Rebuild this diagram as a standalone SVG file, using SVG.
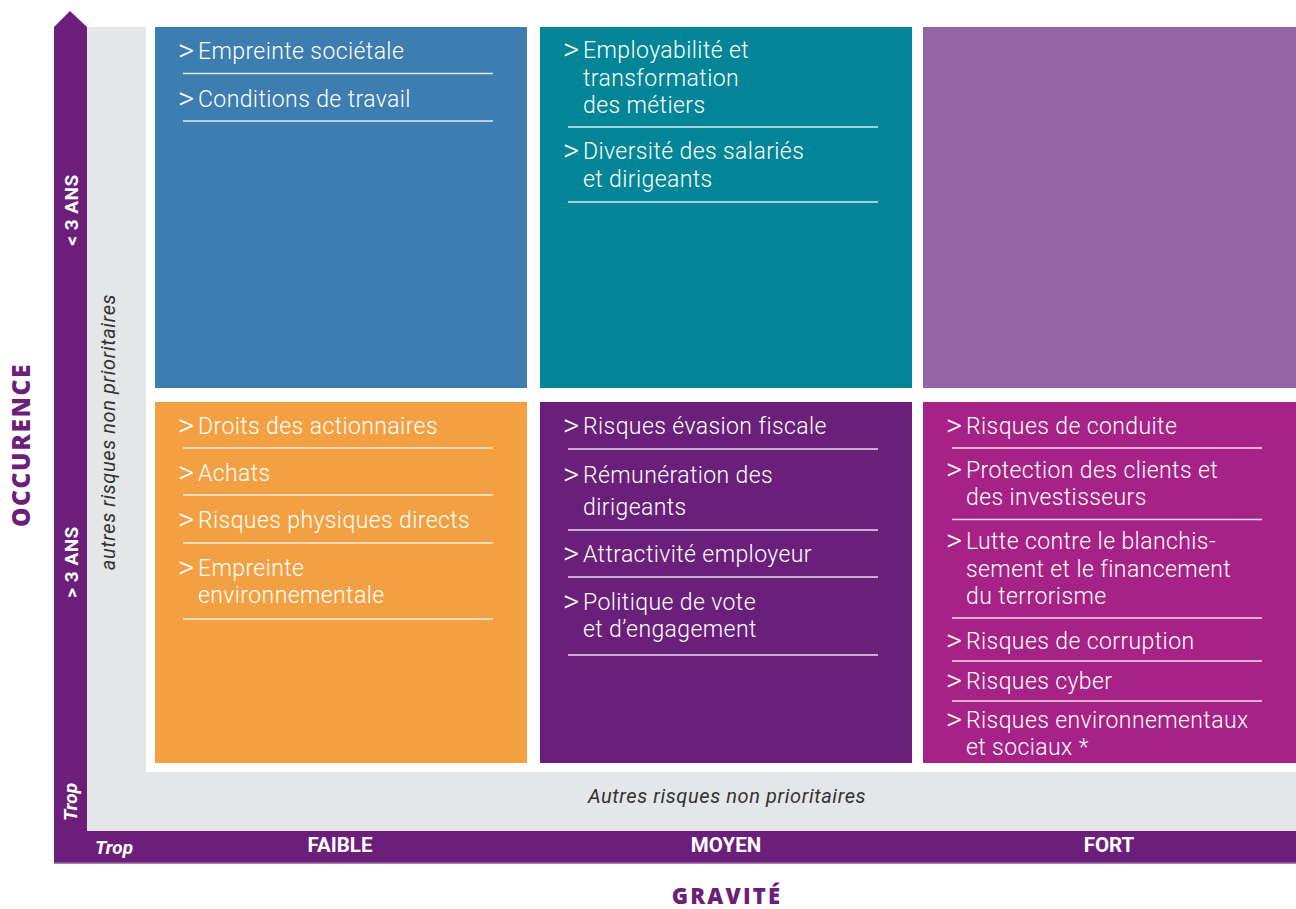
<svg xmlns="http://www.w3.org/2000/svg" width="1296" height="909" viewBox="0 0 1296 909">
<style>
.it{font-family:Roboto,"Liberation Sans",sans-serif;font-weight:300;font-size:23px;letter-spacing:0.4px;fill:#fff}
.gt{font-family:Roboto,"Liberation Sans",sans-serif;font-weight:300;font-size:31px;fill:#fff}
.sep{stroke:#fff;stroke-width:1.3;opacity:0.85}
.ax{font-family:Roboto,"Liberation Sans",sans-serif;font-weight:700;fill:#fff}
.grey{font-family:Roboto,"Liberation Sans",sans-serif;font-style:italic;fill:#333;font-size:20px;letter-spacing:0.6px}
.title{font-family:"Open Sans","Liberation Sans",sans-serif;font-weight:800;fill:#6b1f7b}
</style>
<rect width="1296" height="909" fill="#fff"/>
<g id="axes">
<rect x="87" y="27" width="59" height="804" fill="#e5e6e8"/>
<rect x="87" y="772" width="1209" height="59" fill="#e5e6e8"/>
<polygon points="54,27 70,11 87,27 87,863 54,863" fill="#6b1f7b"/>
<rect x="54" y="831" width="1242" height="32" fill="#6b1f7b"/>
<rect x="54" y="862.5" width="1242" height="1.5" fill="#a77fb3"/>
<text class="ax" font-size="19" letter-spacing="0.5" transform="translate(78,210) rotate(-90)" text-anchor="middle">&lt; 3 ANS</text>
<text class="ax" font-size="19" letter-spacing="0.5" transform="translate(78,562) rotate(-90)" text-anchor="middle">&gt; 3 ANS</text>
<text class="ax" font-size="19" font-style="italic" transform="translate(77,802) rotate(-90)" text-anchor="middle">Trop</text>
<text class="ax" font-size="19" font-style="italic" x="95" y="854">Trop</text>
<text class="ax" font-size="20.5" x="340" y="852" text-anchor="middle">FAIBLE</text>
<text class="ax" font-size="20.5" x="726" y="852" text-anchor="middle">MOYEN</text>
<text class="ax" font-size="20.5" x="1109" y="852" text-anchor="middle">FORT</text>
<text class="grey" transform="translate(115,432) rotate(-90)" text-anchor="middle">autres risques non prioritaires</text>
<text class="grey" x="727" y="803" text-anchor="middle">Autres risques non prioritaires</text>
<text class="title" font-size="24.5" letter-spacing="1.6" transform="translate(30,445) rotate(-90)" text-anchor="middle">OCCURENCE</text>
<text class="title" font-size="22" letter-spacing="2.2" x="727" y="904" text-anchor="middle">GRAVITÉ</text>
</g>
<g id="cell-faible-court">
<rect x="155" y="27" width="372" height="361" fill="#3d7daf"/>
<text class="gt" x="178" y="61">&gt;</text><text class="it" x="198" y="59">Empreinte sociétale</text>
<line class="sep" x1="183" y1="73.5" x2="493" y2="73.5"/>
<text class="gt" x="178" y="109">&gt;</text><text class="it" x="198" y="107">Conditions de travail</text>
<line class="sep" x1="183" y1="121" x2="493" y2="121"/>
</g>
<g id="cell-moyen-court">
<rect x="540" y="27" width="372" height="361" fill="#028597"/>
<text class="gt" x="563" y="60">&gt;</text><text class="it" x="583" y="58">Employabilité et</text>
<text class="it" x="583" y="86">transformation</text>
<text class="it" x="583" y="113">des métiers</text>
<line class="sep" x1="568" y1="127" x2="878" y2="127"/>
<text class="gt" x="563" y="161">&gt;</text><text class="it" x="583" y="159">Diversité des salariés</text>
<text class="it" x="583" y="187">et dirigeants</text>
<line class="sep" x1="568" y1="202" x2="878" y2="202"/>
</g>
<g id="cell-fort-court">
<rect x="923" y="27" width="373" height="361" fill="#9464a6"/>
</g>
<g id="cell-faible-long">
<rect x="155" y="402" width="372" height="361" fill="#f3a043"/>
<text class="gt" x="178" y="436">&gt;</text><text class="it" x="198" y="434">Droits des actionnaires</text>
<line class="sep" x1="183" y1="448" x2="493" y2="448"/>
<text class="gt" x="178" y="483">&gt;</text><text class="it" x="198" y="481">Achats</text>
<line class="sep" x1="183" y1="495" x2="493" y2="495"/>
<text class="gt" x="178" y="530">&gt;</text><text class="it" x="198" y="528">Risques physiques directs</text>
<line class="sep" x1="183" y1="543" x2="493" y2="543"/>
<text class="gt" x="178" y="578">&gt;</text><text class="it" x="198" y="576">Empreinte</text>
<text class="it" x="198" y="603">environnementale</text>
<line class="sep" x1="183" y1="619" x2="493" y2="619"/>
</g>
<g id="cell-moyen-long">
<rect x="540" y="402" width="372" height="361" fill="#6a1f7a"/>
<text class="gt" x="563" y="436">&gt;</text><text class="it" x="583" y="434">Risques évasion fiscale</text>
<line class="sep" x1="568" y1="449" x2="878" y2="449"/>
<text class="gt" x="563" y="485">&gt;</text><text class="it" x="583" y="483">Rémunération des</text>
<text class="it" x="583" y="515">dirigeants</text>
<line class="sep" x1="568" y1="530" x2="878" y2="530"/>
<text class="gt" x="563" y="564">&gt;</text><text class="it" x="583" y="562">Attractivité employeur</text>
<line class="sep" x1="568" y1="577" x2="878" y2="577"/>
<text class="gt" x="563" y="612">&gt;</text><text class="it" x="583" y="610">Politique de vote</text>
<text class="it" x="583" y="637">et d’engagement</text>
<line class="sep" x1="568" y1="655" x2="878" y2="655"/>
</g>
<g id="cell-fort-long">
<rect x="923" y="402" width="373" height="361" fill="#a72286"/>
<text class="gt" x="946" y="436">&gt;</text><text class="it" x="966" y="434">Risques de conduite</text>
<line class="sep" x1="952" y1="448" x2="1262" y2="448"/>
<text class="gt" x="946" y="480">&gt;</text><text class="it" x="966" y="478">Protection des clients et</text>
<text class="it" x="966" y="505">des investisseurs</text>
<line class="sep" x1="952" y1="519.5" x2="1262" y2="519.5"/>
<text class="gt" x="946" y="551">&gt;</text><text class="it" x="966" y="549">Lutte contre le blanchis-</text>
<text class="it" x="966" y="577">sement et le financement</text>
<text class="it" x="966" y="604">du terrorisme</text>
<line class="sep" x1="952" y1="618" x2="1262" y2="618"/>
<text class="gt" x="946" y="651">&gt;</text><text class="it" x="966" y="649">Risques de corruption</text>
<line class="sep" x1="952" y1="661" x2="1262" y2="661"/>
<text class="gt" x="946" y="691">&gt;</text><text class="it" x="966" y="689">Risques cyber</text>
<line class="sep" x1="952" y1="701" x2="1262" y2="701"/>
<text class="gt" x="946" y="730">&gt;</text><text class="it" x="966" y="728">Risques environnementaux</text>
<text class="it" x="966" y="755">et sociaux *</text>
</g>
</svg>
